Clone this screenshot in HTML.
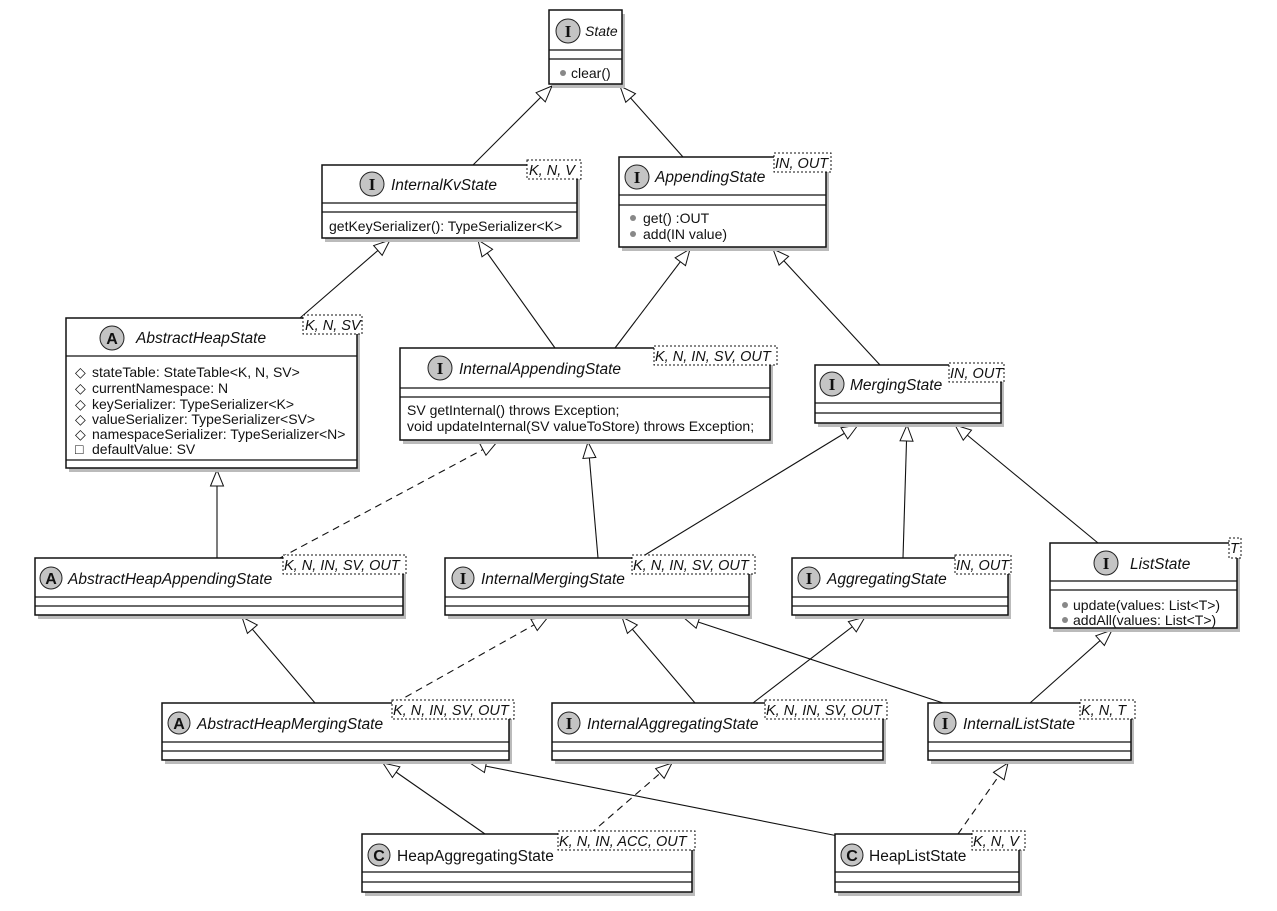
<!DOCTYPE html>
<html><head><meta charset="utf-8"><style>
html,body{margin:0;padding:0;background:#fff;}
svg{display:block;}
text{font-family:"Liberation Sans",sans-serif;fill:#111;}
.t{font-size:15.5px;font-style:italic;}
.c{font-size:15.5px;}
.m{font-size:14px;}
.g{font-size:14.5px;font-style:italic;}
.ic{font-family:"Liberation Serif",serif;font-weight:bold;font-size:17px;text-anchor:middle;}
.ia{font-family:"Liberation Sans",sans-serif;font-weight:bold;font-size:16px;text-anchor:middle;}
</style></head><body>
<svg width="1277" height="911" viewBox="0 0 1277 911" xmlns="http://www.w3.org/2000/svg">
<defs>
<marker id="a" markerUnits="userSpaceOnUse" markerWidth="18" markerHeight="16" refX="17" refY="7.5" orient="auto">
<path d="M1,1 L17,7.5 L1,14 Z" fill="#fff" stroke="#111" stroke-width="1"/>
</marker>
</defs>
<g stroke="#111" stroke-width="1.1" fill="none" marker-end="url(#a)">
<line x1="473" y1="165" x2="552" y2="86"/>
<line x1="683" y1="157" x2="620" y2="86"/>
<line x1="300" y1="318" x2="390" y2="240"/>
<line x1="555" y1="348" x2="478" y2="240"/>
<line x1="615" y1="348" x2="690" y2="249"/>
<line x1="880" y1="365" x2="773" y2="249"/>
<line x1="217" y1="558" x2="217" y2="470"/>
<line x1="280" y1="558" x2="497" y2="442" stroke-dasharray="7,5"/>
<line x1="598" y1="558" x2="588" y2="442"/>
<line x1="640" y1="558" x2="858" y2="425"/>
<line x1="903" y1="558" x2="907" y2="425"/>
<line x1="1098" y1="543" x2="955" y2="425"/>
<line x1="315" y1="703" x2="242" y2="617"/>
<line x1="395" y1="703" x2="548" y2="617" stroke-dasharray="7,5"/>
<line x1="695" y1="703" x2="622" y2="617"/>
<line x1="753" y1="703" x2="865" y2="617"/>
<line x1="943" y1="703" x2="683" y2="617"/>
<line x1="1030" y1="703" x2="1112" y2="630"/>
<line x1="485" y1="834" x2="383" y2="763"/>
<line x1="590" y1="834" x2="672" y2="763" stroke-dasharray="7,5"/>
<line x1="838" y1="836" x2="470" y2="763"/>
<line x1="958" y1="834" x2="1008" y2="763" stroke-dasharray="7,5"/>
</g>

<g>
<!-- State -->
<rect x="552" y="14" width="73" height="74" fill="#bbb"/>
<rect x="549" y="10" width="73" height="74" fill="#fff" stroke="#111" stroke-width="1.5"/>
<line x1="549" y1="50" x2="622" y2="50" stroke="#111" stroke-width="1.3"/>
<line x1="549" y1="59" x2="622" y2="59" stroke="#111" stroke-width="1.3"/>
<circle cx="568" cy="31" r="12" fill="#c4c4c4" stroke="#222"/><text class="ic" x="568" y="37">I</text>
<text x="585" y="36" style="font-size:14px;font-style:italic">State</text>
<circle cx="563" cy="73" r="3" fill="#888"/><text class="m" x="571" y="78">clear()</text>

<!-- InternalKvState -->
<rect x="325" y="169" width="255" height="73" fill="#bbb"/>
<rect x="322" y="165" width="255" height="73" fill="#fff" stroke="#111" stroke-width="1.5"/>
<line x1="322" y1="203" x2="577" y2="203" stroke="#111" stroke-width="1.3"/>
<line x1="322" y1="212" x2="577" y2="212" stroke="#111" stroke-width="1.3"/>
<circle cx="372" cy="184" r="12" fill="#c4c4c4" stroke="#222"/><text class="ic" x="372" y="190">I</text>
<text class="t" x="391" y="190">InternalKvState</text>
<text class="m" x="329" y="231">getKeySerializer(): TypeSerializer&lt;K&gt;</text>
<rect x="527" y="160" width="54" height="19" fill="#fff" stroke="#111" stroke-dasharray="2,2"/>
<text class="g" x="529" y="175">K, N, V</text>

<!-- AppendingState -->
<rect x="622" y="161" width="207" height="90" fill="#bbb"/>
<rect x="619" y="157" width="207" height="90" fill="#fff" stroke="#111" stroke-width="1.5"/>
<line x1="619" y1="195" x2="826" y2="195" stroke="#111" stroke-width="1.3"/>
<line x1="619" y1="205" x2="826" y2="205" stroke="#111" stroke-width="1.3"/>
<circle cx="637" cy="177" r="12" fill="#c4c4c4" stroke="#222"/><text class="ic" x="637" y="183">I</text>
<text class="t" x="655" y="182">AppendingState</text>
<circle cx="633" cy="218" r="3" fill="#888"/><text class="m" x="643" y="223">get() :OUT</text>
<circle cx="633" cy="234" r="3" fill="#888"/><text class="m" x="643" y="239">add(IN value)</text>
<rect x="774" y="153" width="57" height="19" fill="#fff" stroke="#111" stroke-dasharray="2,2"/>
<text class="g" x="775" y="168">IN, OUT</text>

<!-- AbstractHeapState -->
<rect x="69" y="322" width="291" height="150" fill="#bbb"/>
<rect x="66" y="318" width="291" height="150" fill="#fff" stroke="#111" stroke-width="1.5"/>
<line x1="66" y1="356" x2="357" y2="356" stroke="#111" stroke-width="1.3"/>
<line x1="66" y1="460" x2="357" y2="460" stroke="#111" stroke-width="1.3"/>
<circle cx="112" cy="338" r="12" fill="#c4c4c4" stroke="#222"/><text class="ia" x="112" y="344">A</text>
<text class="t" x="136" y="343">AbstractHeapState</text>
<g class="m">
<text x="75" y="377">◇</text><text x="92" y="377">stateTable: StateTable&lt;K, N, SV&gt;</text>
<text x="75" y="393">◇</text><text x="92" y="393">currentNamespace: N</text>
<text x="75" y="409">◇</text><text x="92" y="409">keySerializer: TypeSerializer&lt;K&gt;</text>
<text x="75" y="424">◇</text><text x="92" y="424">valueSerializer: TypeSerializer&lt;SV&gt;</text>
<text x="75" y="439">◇</text><text x="92" y="439">namespaceSerializer: TypeSerializer&lt;N&gt;</text>
<text x="75" y="454">□</text><text x="92" y="454">defaultValue: SV</text>
</g>
<rect x="303" y="315" width="59" height="19" fill="#fff" stroke="#111" stroke-dasharray="2,2"/>
<text class="g" x="305" y="330">K, N, SV</text>

<!-- InternalAppendingState -->
<rect x="403" y="352" width="370" height="92" fill="#bbb"/>
<rect x="400" y="348" width="370" height="92" fill="#fff" stroke="#111" stroke-width="1.5"/>
<line x1="400" y1="388" x2="770" y2="388" stroke="#111" stroke-width="1.3"/>
<line x1="400" y1="397" x2="770" y2="397" stroke="#111" stroke-width="1.3"/>
<circle cx="440" cy="368" r="12" fill="#c4c4c4" stroke="#222"/><text class="ic" x="440" y="374">I</text>
<text class="t" x="459" y="374">InternalAppendingState</text>
<text class="m" x="407" y="415">SV getInternal() throws Exception;</text>
<text class="m" x="407" y="431">void updateInternal(SV valueToStore) throws Exception;</text>
<rect x="654" y="346" width="123" height="19" fill="#fff" stroke="#111" stroke-dasharray="2,2"/>
<text class="g" x="655" y="361">K, N, IN, SV, OUT</text>

<!-- MergingState -->
<rect x="818" y="369" width="186" height="58" fill="#bbb"/>
<rect x="815" y="365" width="186" height="58" fill="#fff" stroke="#111" stroke-width="1.5"/>
<line x1="815" y1="403" x2="1001" y2="403" stroke="#111" stroke-width="1.3"/>
<line x1="815" y1="413" x2="1001" y2="413" stroke="#111" stroke-width="1.3"/>
<circle cx="832" cy="384" r="12" fill="#c4c4c4" stroke="#222"/><text class="ic" x="832" y="390">I</text>
<text class="t" x="850" y="390">MergingState</text>
<rect x="949" y="363" width="55" height="19" fill="#fff" stroke="#111" stroke-dasharray="2,2"/>
<text class="g" x="950" y="378">IN, OUT</text>

<!-- AbstractHeapAppendingState -->
<rect x="38" y="562" width="368" height="57" fill="#bbb"/>
<rect x="35" y="558" width="368" height="57" fill="#fff" stroke="#111" stroke-width="1.5"/>
<line x1="35" y1="597" x2="403" y2="597" stroke="#111" stroke-width="1.3"/>
<line x1="35" y1="606" x2="403" y2="606" stroke="#111" stroke-width="1.3"/>
<circle cx="51" cy="578" r="11" fill="#c4c4c4" stroke="#222"/><text class="ia" x="51" y="584">A</text>
<text class="t" x="68" y="584">AbstractHeapAppendingState</text>
<rect x="283" y="555" width="123" height="19" fill="#fff" stroke="#111" stroke-dasharray="2,2"/>
<text class="g" x="284" y="570">K, N, IN, SV, OUT</text>

<!-- InternalMergingState -->
<rect x="448" y="562" width="304" height="57" fill="#bbb"/>
<rect x="445" y="558" width="304" height="57" fill="#fff" stroke="#111" stroke-width="1.5"/>
<line x1="445" y1="597" x2="749" y2="597" stroke="#111" stroke-width="1.3"/>
<line x1="445" y1="606" x2="749" y2="606" stroke="#111" stroke-width="1.3"/>
<circle cx="463" cy="578" r="11" fill="#c4c4c4" stroke="#222"/><text class="ic" x="463" y="584">I</text>
<text class="t" x="481" y="584">InternalMergingState</text>
<rect x="632" y="555" width="123" height="19" fill="#fff" stroke="#111" stroke-dasharray="2,2"/>
<text class="g" x="633" y="570">K, N, IN, SV, OUT</text>

<!-- AggregatingState -->
<rect x="795" y="562" width="216" height="57" fill="#bbb"/>
<rect x="792" y="558" width="216" height="57" fill="#fff" stroke="#111" stroke-width="1.5"/>
<line x1="792" y1="597" x2="1008" y2="597" stroke="#111" stroke-width="1.3"/>
<line x1="792" y1="606" x2="1008" y2="606" stroke="#111" stroke-width="1.3"/>
<circle cx="809" cy="578" r="11" fill="#c4c4c4" stroke="#222"/><text class="ic" x="809" y="584">I</text>
<text class="t" x="827" y="584">AggregatingState</text>
<rect x="955" y="555" width="56" height="19" fill="#fff" stroke="#111" stroke-dasharray="2,2"/>
<text class="g" x="956" y="570">IN, OUT</text>

<!-- ListState -->
<rect x="1053" y="547" width="187" height="85" fill="#bbb"/>
<rect x="1050" y="543" width="187" height="85" fill="#fff" stroke="#111" stroke-width="1.5"/>
<line x1="1050" y1="581" x2="1237" y2="581" stroke="#111" stroke-width="1.3"/>
<line x1="1050" y1="590" x2="1237" y2="590" stroke="#111" stroke-width="1.3"/>
<circle cx="1106" cy="563" r="12" fill="#c4c4c4" stroke="#222"/><text class="ic" x="1106" y="569">I</text>
<text class="t" x="1130" y="569">ListState</text>
<circle cx="1065" cy="605" r="3" fill="#888"/><text class="m" x="1073" y="610">update(values: List&lt;T&gt;)</text>
<circle cx="1065" cy="620" r="3" fill="#888"/><text class="m" x="1073" y="625">addAll(values: List&lt;T&gt;)</text>
<rect x="1229" y="538" width="12" height="20" fill="#fff" stroke="#111" stroke-dasharray="2,2"/>
<text class="g" x="1230" y="553">T</text>

<!-- AbstractHeapMergingState -->
<rect x="165" y="707" width="347" height="57" fill="#bbb"/>
<rect x="162" y="703" width="347" height="57" fill="#fff" stroke="#111" stroke-width="1.5"/>
<line x1="162" y1="742" x2="509" y2="742" stroke="#111" stroke-width="1.3"/>
<line x1="162" y1="751" x2="509" y2="751" stroke="#111" stroke-width="1.3"/>
<circle cx="179" cy="723" r="11" fill="#c4c4c4" stroke="#222"/><text class="ia" x="179" y="729">A</text>
<text class="t" x="197" y="729">AbstractHeapMergingState</text>
<rect x="392" y="700" width="122" height="19" fill="#fff" stroke="#111" stroke-dasharray="2,2"/>
<text class="g" x="393" y="715">K, N, IN, SV, OUT</text>

<!-- InternalAggregatingState -->
<rect x="555" y="707" width="331" height="57" fill="#bbb"/>
<rect x="552" y="703" width="331" height="57" fill="#fff" stroke="#111" stroke-width="1.5"/>
<line x1="552" y1="742" x2="883" y2="742" stroke="#111" stroke-width="1.3"/>
<line x1="552" y1="751" x2="883" y2="751" stroke="#111" stroke-width="1.3"/>
<circle cx="569" cy="723" r="11" fill="#c4c4c4" stroke="#222"/><text class="ic" x="569" y="729">I</text>
<text class="t" x="587" y="729">InternalAggregatingState</text>
<rect x="765" y="700" width="122" height="19" fill="#fff" stroke="#111" stroke-dasharray="2,2"/>
<text class="g" x="766" y="715">K, N, IN, SV, OUT</text>

<!-- InternalListState -->
<rect x="931" y="707" width="203" height="57" fill="#bbb"/>
<rect x="928" y="703" width="203" height="57" fill="#fff" stroke="#111" stroke-width="1.5"/>
<line x1="928" y1="742" x2="1131" y2="742" stroke="#111" stroke-width="1.3"/>
<line x1="928" y1="751" x2="1131" y2="751" stroke="#111" stroke-width="1.3"/>
<circle cx="945" cy="723" r="11" fill="#c4c4c4" stroke="#222"/><text class="ic" x="945" y="729">I</text>
<text class="t" x="963" y="729">InternalListState</text>
<rect x="1080" y="700" width="55" height="19" fill="#fff" stroke="#111" stroke-dasharray="2,2"/>
<text class="g" x="1081" y="715">K, N, T</text>

<!-- HeapAggregatingState -->
<rect x="365" y="838" width="330" height="58" fill="#bbb"/>
<rect x="362" y="834" width="330" height="58" fill="#fff" stroke="#111" stroke-width="1.5"/>
<line x1="362" y1="872" x2="692" y2="872" stroke="#111" stroke-width="1.3"/>
<line x1="362" y1="882" x2="692" y2="882" stroke="#111" stroke-width="1.3"/>
<circle cx="379" cy="855" r="11" fill="#c4c4c4" stroke="#222"/><text class="ia" x="379" y="861">C</text>
<text class="c" x="397" y="861">HeapAggregatingState</text>
<rect x="558" y="831" width="137" height="19" fill="#fff" stroke="#111" stroke-dasharray="2,2"/>
<text class="g" x="559" y="846">K, N, IN, ACC, OUT</text>

<!-- HeapListState -->
<rect x="838" y="838" width="184" height="58" fill="#bbb"/>
<rect x="835" y="834" width="184" height="58" fill="#fff" stroke="#111" stroke-width="1.5"/>
<line x1="835" y1="872" x2="1019" y2="872" stroke="#111" stroke-width="1.3"/>
<line x1="835" y1="882" x2="1019" y2="882" stroke="#111" stroke-width="1.3"/>
<circle cx="852" cy="855" r="11" fill="#c4c4c4" stroke="#222"/><text class="ia" x="852" y="861">C</text>
<text class="c" x="869" y="861">HeapListState</text>
<rect x="972" y="831" width="53" height="19" fill="#fff" stroke="#111" stroke-dasharray="2,2"/>
<text class="g" x="973" y="846">K, N, V</text>
</g>
</svg>
</body></html>
